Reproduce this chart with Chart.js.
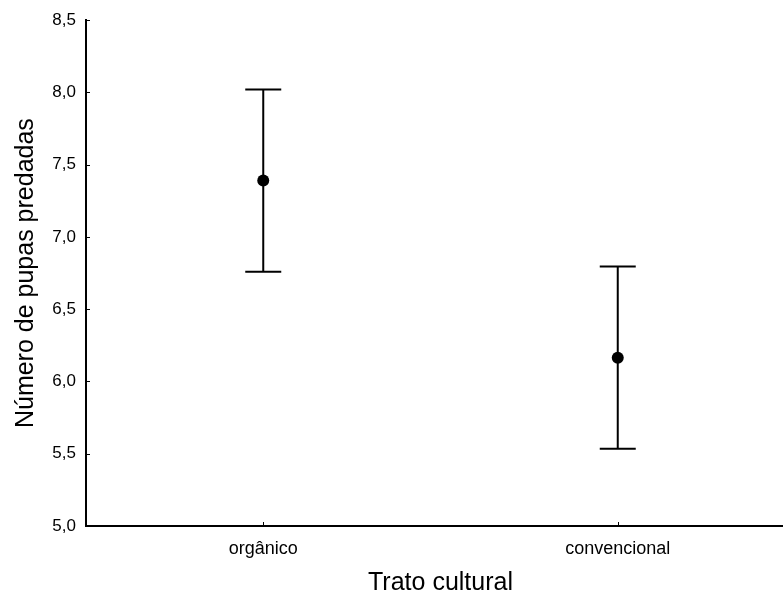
<!DOCTYPE html>
<html>
<head>
<meta charset="utf-8">
<script src="https://cdn.jsdelivr.net/npm/chart.js@4/dist/chart.umd.min.js"></script>
<style>
  html, body { margin: 0; padding: 0; background: #fff; overflow: hidden; }
  #wrap { width: 801px; height: 597px; }
</style>
</head>
<body>
<div id="wrap"><canvas id="c" width="801" height="597"></canvas></div>
<script>
// Treatments and predation means with their interval half-widths
const categories = ['orgânico', 'convencional'];
const means = [7.39, 6.165];
const halfWidths = [0.63, 0.63];
const yTicks = [5.0, 5.5, 6.0, 6.5, 7.0, 7.5, 8.0, 8.5];

const FONT = 'Liberation Sans, Arial, Helvetica, sans-serif';

// Vertical whiskers with caps, drawn under the mean markers
const errorBars = {
  id: 'errorBars',
  beforeDatasetsDraw(chart) {
    const { ctx, scales: { x, y } } = chart;
    ctx.save();
    ctx.strokeStyle = '#000';
    ctx.lineWidth = 2;
    means.forEach((m, i) => {
      const px = x.getPixelForValue(i);
      const top = y.getPixelForValue(m + halfWidths[i]);
      const bot = y.getPixelForValue(m - halfWidths[i]);
      ctx.beginPath();
      ctx.moveTo(px, top); ctx.lineTo(px, bot);
      ctx.moveTo(px - 18, top); ctx.lineTo(px + 18, top);
      ctx.moveTo(px - 18, bot); ctx.lineTo(px + 18, bot);
      ctx.stroke();
    });
    ctx.restore();
  }
};

// Short tick marks pointing into the plot area
const innerTicks = {
  id: 'innerTicks',
  afterDraw(chart) {
    const { ctx, chartArea, scales: { x, y } } = chart;
    ctx.save();
    ctx.strokeStyle = '#000';
    ctx.lineWidth = 1;
    ctx.beginPath();
    yTicks.forEach(v => {
      const py = Math.round(y.getPixelForValue(v)) + 0.5;
      ctx.moveTo(chartArea.left, py);
      ctx.lineTo(chartArea.left + 4, py);
    });
    categories.forEach((c, i) => {
      const px = Math.round(x.getPixelForValue(i)) + 0.5;
      ctx.moveTo(px, chartArea.bottom);
      ctx.lineTo(px, chartArea.bottom - 4);
    });
    ctx.stroke();
    ctx.restore();
  }
};

new Chart(document.getElementById('c'), {
  type: 'line',
  data: {
    labels: categories,
    datasets: [{
      data: means,
      showLine: false,
      pointRadius: 6,
      pointHoverRadius: 6,
      pointBackgroundColor: '#000',
      pointBorderColor: '#000',
      pointBorderWidth: 0
    }]
  },
  options: {
    responsive: false,
    animation: false,
    layout: { padding: { top: 20, right: 0, left: 0, bottom: 0 } },
    plugins: { legend: { display: false }, tooltip: { enabled: false } },
    scales: {
      x: {
        type: 'category',
        offset: true,
        grid: { display: true, drawOnChartArea: false, drawTicks: false },
        border: { display: true, color: '#000', width: 2 },
        ticks: { color: '#000', font: { family: FONT, size: 18 }, padding: 12, maxRotation: 0 },
        title: {
          display: true, text: 'Trato cultural', color: '#000',
          font: { family: FONT, size: 25, lineHeight: 1 },
          padding: { top: 0, bottom: 1 }
        },
        afterFit(s) { s.height = 71; }
      },
      y: {
        min: 5, max: 8.5,
        afterBuildTicks(s) { s.ticks = yTicks.map(v => ({ value: v })); },
        grid: { display: true, drawOnChartArea: false, drawTicks: false },
        border: { display: true, color: '#000', width: 2 },
        ticks: {
          color: '#000', font: { family: FONT, size: 17 }, padding: 10,
          callback: v => v.toFixed(1).replace('.', ',')
        },
        title: {
          display: true, text: 'Número de pupas predadas', color: '#000',
          font: { family: FONT, size: 25, lineHeight: 1 },
          padding: { top: 13.5, bottom: 0 }
        },
        afterFit(s) { s.width = 86; }
      }
    }
  },
  plugins: [errorBars, innerTicks]
});
</script>
</body>
</html>
